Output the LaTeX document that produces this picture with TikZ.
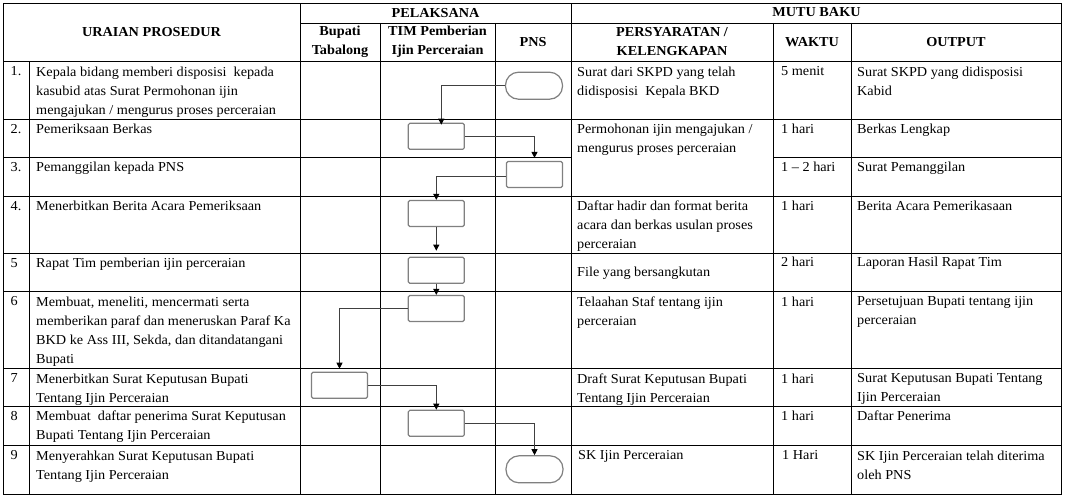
\documentclass[tikz,border=0pt]{standalone}
\usepackage{fontspec}
\setmainfont{Liberation Serif}[FakeStretch=1.04]
\usepackage{tikz}
\usetikzlibrary{arrows.meta}

\tikzset{
  isi/.style={anchor=north west, inner sep=0pt, align=left,
    font=\fontsize{13.7}{19}\selectfont},
  judul/.style={inner sep=0pt, align=center, font=\fontsize{13.7}{19}\selectfont\bfseries},
  garis/.style={line width=0.9pt, black},
  kotak/.style={draw=black!50, line width=1.2pt, rounded corners=1.5pt,
    minimum width=56pt, minimum height=26pt, inner sep=0pt},
  ujung/.style={draw=black!50, line width=1.2pt, rounded corners=13pt,
    minimum width=57pt, minimum height=27pt, inner sep=0pt},
  alur/.style={draw=black!75, line width=1pt, -{Triangle[width=6pt,length=6pt,color=black]}}
}

\begin{document}
\begin{tikzpicture}[x=1pt,y=-1pt]
                \useasboundingbox (0,0) rectangle (1065,500);
                % garis tabel
                \draw[garis] (3.5,3.3) rectangle (1061,494);
                \draw[garis] (300,23) -- (1061,23);
                \draw[garis] (3.5,61.7) -- (1061,61.7);
                \draw[garis] (3.5,119) -- (1061,119);
                \draw[garis] (3.5,157) -- (571,157);
                \draw[garis] (773,157) -- (1061,157);
                \draw[garis] (3.5,196) -- (1061,196);
                \draw[garis] (3.5,253) -- (1061,253);
                \draw[garis] (3.5,291.3) -- (1061,291.3);
                \draw[garis] (3.5,368.3) -- (1061,368.3);
                \draw[garis] (3.5,406) -- (1061,406);
                \draw[garis] (3.5,445.3) -- (1061,445.3);
                \draw[garis] (29,61.7) -- (29,494);
                \draw[garis] (300,3.3) -- (300,494);
                \draw[garis] (380,23) -- (380,494);
                \draw[garis] (495,23) -- (495,494);
                \draw[garis] (571,3.3) -- (571,494);
                \draw[garis] (773,23) -- (773,494);
                \draw[garis] (851,23) -- (851,494);

                % kepala tabel
                \node[judul] (hUraian) at (151.5,32) {URAIAN  PROSEDUR};
                \node[judul] (hPelaksana) at (435.5,13) {PELAKSANA};
                \node[judul] (hMutu) at (816.5,12.5) {MUTU BAKU};
                \node[judul] (hBupati) at (340,41.5) {Bupati\\Tabalong};
                \node[judul] (hTim) at (437.5,41.5) {TIM Pemberian\\Ijin Perceraian};
                \node[judul] (hPns) at (533,42) {PNS};
                \node[judul] (hSyarat) at (672,41.5) {PERSYARATAN  /\\KELENGKAPAN};
                \node[judul] (hWaktu) at (812,42) {WAKTU};
                \node[judul] (hOutput) at (956,42) {OUTPUT};

                % nomor
                \node[isi] (n1) at (10.5,66.7) {1.};
                \node[isi] (n2) at (10.5,124) {2.};
                \node[isi] (n3) at (10.5,162) {3.};
                \node[isi] (n4) at (10.5,201) {4.};
                \node[isi] (n5) at (10.5,258) {5};
                \node[isi] (n6) at (10.5,296.3) {6};
                \node[isi] (n7) at (10.5,373.3) {7};
                \node[isi] (n8) at (10.5,411) {8};
                \node[isi] (n9) at (10.5,450.3) {9};

                % uraian prosedur
                \node[isi] (u1) at (36,66.7) {Kepala bidang memberi disposisi \ kepada\\kasubid atas Surat Permohonan ijin\\mengajukan / mengurus proses perceraian};
                \node[isi] (u2) at (36,124) {Pemeriksaan Berkas};
                \node[isi] (u3) at (36,162) {Pemanggilan kepada PNS};
                \node[isi] (u4) at (36,201) {Menerbitkan Berita Acara Pemeriksaan};
                \node[isi] (u5) at (36,258) {Rapat Tim pemberian ijin perceraian};
                \node[isi] (u6) at (36,296.3) {Membuat, meneliti, mencermati serta\\memberikan paraf dan meneruskan Paraf Ka\\BKD ke Ass III, Sekda, dan ditandatangani\\Bupati};
                \node[isi] (u7) at (36,373.3) {Menerbitkan Surat Keputusan Bupati\\Tentang Ijin Perceraian};
                \node[isi] (u8) at (36,411) {Membuat \ daftar penerima Surat Keputusan\\Bupati Tentang Ijin Perceraian};
                \node[isi] (u9) at (36,450.3) {Menyerahkan Surat Keputusan Bupati\\Tentang Ijin Perceraian};

                % persyaratan
                \node[isi] (s1) at (577,66.7) {Surat dari SKPD yang telah\\didisposisi \ Kepala BKD};
                \node[isi] (s2) at (577,124) {Permohonan ijin mengajukan /\\mengurus proses perceraian};
                \node[isi] (s4) at (577,201) {Daftar hadir dan format berita\\acara dan berkas usulan proses\\perceraian};
                \node[isi] (s5) at (577,266.3) {File yang bersangkutan};
                \node[isi] (s6) at (577,296.3) {Telaahan Staf tentang ijin\\perceraian};
                \node[isi] (s7) at (577,373.3) {Draft Surat Keputusan Bupati\\Tentang Ijin Perceraian};
                \node[isi] (s9) at (578,450.3) {SK Ijin Perceraian};

                % waktu
                \node[isi] (w1) at (781,66.7) {5 menit};
                \node[isi] (w2) at (781,124) {1 hari};
                \node[isi] (w3) at (781,162) {1 -- 2 hari};
                \node[isi] (w4) at (781,201) {1 hari};
                \node[isi] (w5) at (781,257) {2 hari};
                \node[isi] (w6) at (781,296.3) {1 hari};
                \node[isi] (w7) at (781,373.3) {1 hari};
                \node[isi] (w8) at (781,411) {1 hari};
                \node[isi] (w9) at (782,450.3) {1 Hari};

                % output
                \node[isi] (o1) at (857,66.7) {Surat SKPD yang didisposisi\\Kabid};
                \node[isi] (o2) at (857,124) {Berkas Lengkap};
                \node[isi] (o3) at (857,162) {Surat Pemanggilan};
                \node[isi] (o4) at (857,201) {Berita Acara Pemerikasaan};
                \node[isi] (o5) at (857,257) {Laporan Hasil Rapat Tim};
                \node[isi] (o6) at (857,296.3) {Persetujuan Bupati tentang ijin\\perceraian};
                \node[isi] (o7) at (857,373.3) {Surat Keputusan Bupati Tentang\\Ijin Perceraian};
                \node[isi] (o8) at (857,411) {Daftar Penerima};
                \node[isi] (o9) at (857,450.3) {SK Ijin Perceraian telah diterima\\oleh PNS};

                % bagan alir
                \node[ujung] (t1) at (534,85.7) {};
                \node[kotak] (b2) at (436.3,136.3) {};
                \node[kotak] (b3) at (534.5,174.5) {};
                \node[kotak] (b4) at (436.3,213.5) {};
                \node[kotak] (b5) at (436.3,270.3) {};
                \node[kotak] (b6) at (436.3,308.5) {};
                \node[kotak] (b7) at (339.5,385.3) {};
                \node[kotak] (b8) at (436.3,423.3) {};
                \node[ujung] (t9) at (534.5,469.3) {};

                \draw[alur, shorten >=-2pt] (t1.west) -| ([xshift=5pt]b2.north);
                \draw[alur, shorten >=3pt] (b2.east) -| (b3.north);
                \draw[alur] ([yshift=-2pt]b3.west) -| (b4.north);
                \draw[alur, shorten >=6pt] (b4.south) -- (b5.north);
                \draw[alur] (b5.south) -- (b6.north);
                \draw[alur, shorten >=3pt] (b6.west) -| (b7.north);
                \draw[alur] (b7.east) -| (b8.north);
                \draw[alur] (b8.east) -| (t9.north);
            \end{tikzpicture}
\end{document}
